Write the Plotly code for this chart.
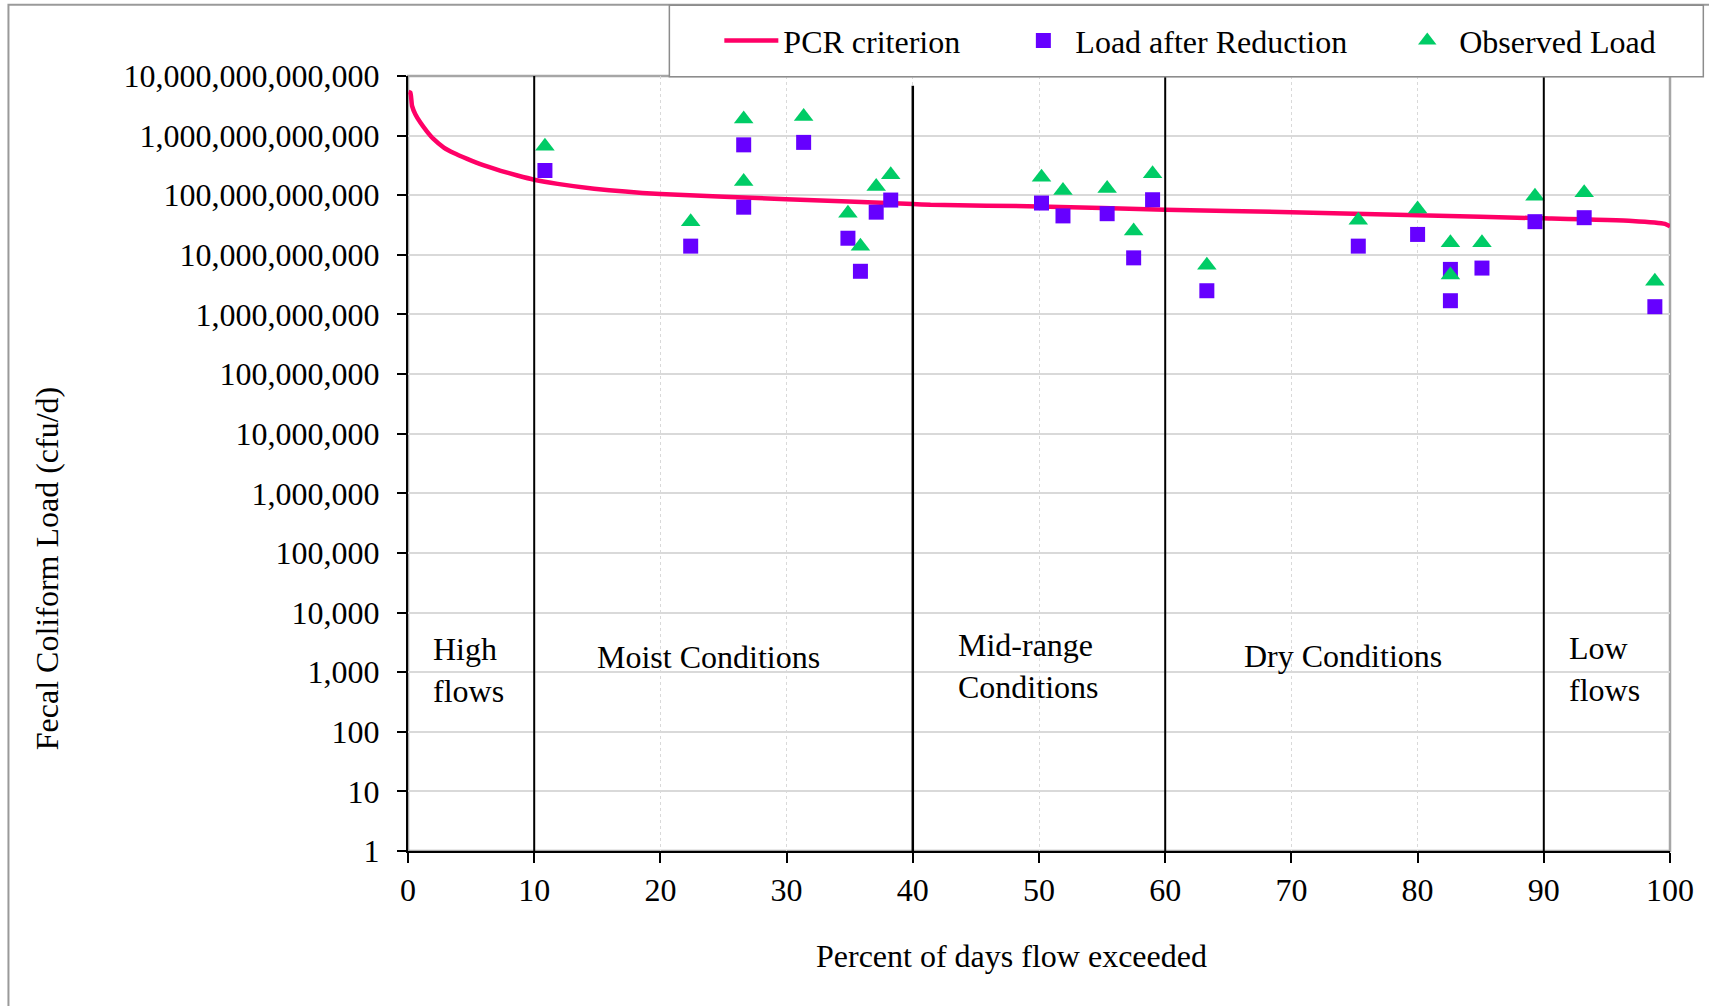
import plotly.graph_objects as go

# ---------------- data ----------------
pcr_x = [0.05, 0.19, 0.32, 0.58, 0.98, 1.51, 2.04, 2.84, 3.63, 4.69, 6.02, 7.35, 8.67,
         10.0, 11.86, 14.75, 20, 30, 40, 41.4, 50, 60, 70, 80, 90, 97, 99.6, 100]
pcr_y = [5.4e12, 5.25e12, 3.16e12, 2.29e12, 1.66e12, 1.17e12, 8.7e11, 6.3e11, 5.1e11,
         4.07e11, 3.16e11, 2.57e11, 2.14e11, 1.82e11, 1.55e11, 1.29e11, 1.05e11, 8.6e10,
         7.1e10, 6.9e10, 6.5e10, 5.7e10, 5.2e10, 4.6e10, 4.1e10, 3.7e10, 3.3e10, 3.0e10]

obs_x = [10.85, 22.4, 26.6, 26.6, 31.35, 34.86, 35.85, 37.1, 38.25,
         50.2, 51.9, 55.4, 57.5, 59.0, 63.3, 75.3, 80.0, 82.6, 82.6, 85.1, 89.3, 93.2, 98.8]
obs_y = [6.6e11, 3.6e10, 1.9e12, 1.7e11, 2.1e12, 5.0e10, 1.4e10, 1.4e11, 2.2e11,
         2.0e11, 1.2e11, 1.3e11, 2.5e10, 2.3e11, 6.7e9, 3.8e10, 5.9e10, 1.6e10, 4.6e9,
         1.6e10, 9.6e10, 1.1e11, 3.6e9]

red_x = [10.85, 22.4, 26.6, 26.6, 31.35, 34.86, 35.85, 37.1, 38.25,
         50.2, 51.9, 55.4, 57.5, 59.0, 63.3, 75.3, 80.0, 82.6, 82.6, 85.1, 89.3, 93.2, 98.8]
red_y = [2.6e11, 1.4e10, 7.0e11, 6.3e10, 7.7e11, 1.9e10, 5.3e9, 5.2e10, 8.3e10,
         7.4e10, 4.5e10, 4.9e10, 8.9e9, 8.4e10, 2.5e9, 1.4e10, 2.2e10, 5.7e9, 1.7e9,
         6.0e9, 3.6e10, 4.2e10, 1.35e9]

zone_bounds = [10, 40, 60, 90]
zone_labels = ["High<br>flows", "Moist Conditions", "Mid-range<br>Conditions", "Dry Conditions", "Low<br>flows"]
zone_label_x = [1.8, 14.85, 43.4, 66.1, 91.85]
zone_label_logy = [3.04, 3.26, 3.10, 3.27, 3.06]

y_tickvals = [10 ** k for k in range(0, 14)]
y_ticktext = [f"{v:,}" for v in y_tickvals]
x_tickvals = list(range(0, 101, 10))

FONT = "Liberation Serif, Times New Roman, serif"
FS = 32

fig = go.Figure()

fig.add_trace(go.Scatter(
    x=pcr_x, y=pcr_y, mode="lines", name="PCR criterion",
    line=dict(color="#FF0066", width=4.5, shape="spline", smoothing=0.5),
    legend="legend"))
fig.add_trace(go.Scatter(
    x=red_x, y=red_y, mode="markers", name="Load after Reduction",
    marker=dict(symbol="square", size=15, color="#6600FF"),
    legend="legend2"))
fig.add_trace(go.Scatter(
    x=obs_x, y=obs_y, mode="markers", name="Observed Load",
    marker=dict(symbol="triangle-up", size=17, color="#00CC66"),
    legend="legend3"))

shapes = []
# outer chart border
shapes.append(dict(type="rect", xref="paper", yref="paper",
                   x0=-0.3166, x1=1.2, y0=-0.4, y1=1.0920,
                   line=dict(color="#9a9a9a", width=2), layer="below"))
# plot area border (top/right grey)
shapes.append(dict(type="rect", xref="paper", yref="paper",
                   x0=0, x1=1, y0=0, y1=1,
                   line=dict(color="#a6a6a6", width=2.5), layer="below"))
# zone boundaries
for b in zone_bounds:
    shapes.append(dict(type="line", xref="x", yref="paper",
                       x0=b, x1=b, y0=0, y1=(0.9875 if b == 40 else 1.0),
                       line=dict(color="black", width=2.5 if b == 40 else 2)))
# legend box
shapes.append(dict(type="rect", xref="paper", yref="paper",
                   x0=0.2071, x1=1.0264, y0=0.9991, y1=1.0914,
                   fillcolor="white", line=dict(color="#8c8c8c", width=1.5),
                   layer="above"))

annotations = []
for txt, x, ly in zip(zone_labels, zone_label_x, zone_label_logy):
    annotations.append(dict(text=txt, x=x, y=ly, xref="x", yref="y",
                            xanchor="left", yanchor="middle", align="left",
                            showarrow=False, font=dict(family=FONT, size=FS, color="black")))
annotations.append(dict(text="Fecal Coliform Load (cfu/d)", x=-0.2865, y=0.3642,
                        xref="paper", yref="paper", textangle=-90,
                        xanchor="center", yanchor="middle", showarrow=False,
                        font=dict(family=FONT, size=FS, color="black")))
annotations.append(dict(text="Percent of days flow exceeded", x=0.4785, y=-0.1352,
                        xref="paper", yref="paper",
                        xanchor="center", yanchor="middle", showarrow=False,
                        font=dict(family=FONT, size=FS, color="black")))

leg_common = dict(orientation="h", yanchor="middle", y=1.0456, xanchor="left",
                  bgcolor="rgba(0,0,0,0)", borderwidth=0, itemwidth=54,
                  font=dict(family=FONT, size=FS, color="black"))

fig.update_layout(
    width=1709, height=1006,
    margin=dict(l=408, r=39, t=76, b=155),
    paper_bgcolor="white", plot_bgcolor="white",
    font=dict(family=FONT, size=FS, color="black"),
    showlegend=True,
    legend=dict(x=0.2467, **leg_common),
    legend2=dict(x=0.4781, **leg_common),
    legend3=dict(x=0.7823, **leg_common),
    xaxis=dict(range=[0, 100], tickvals=x_tickvals, ticks="outside", ticklen=10,
               tickwidth=1.5, tickcolor="black", showline=True, linecolor="black",
               linewidth=2, showgrid=True, gridcolor="#d9d9d9", gridwidth=1,
               griddash="3px,3px", zeroline=False,
               tickfont=dict(family=FONT, size=FS, color="black")),
    yaxis=dict(type="log", range=[0, 13], tickvals=y_tickvals, ticktext=y_ticktext,
               ticks="outside", ticklen=9, tickwidth=1.5, tickcolor="black",
               showline=True, linecolor="black", linewidth=2, ticklabelstandoff=11,
               showgrid=True, gridcolor="#d9d9d9", gridwidth=1.5, zeroline=False,
               tickfont=dict(family=FONT, size=FS, color="black")),
    shapes=shapes, annotations=annotations,
)

fig.write_html("out.html", config={"displayModeBar": False},
               post_script="document.body.style.margin='0px';document.body.style.overflow='hidden';")
